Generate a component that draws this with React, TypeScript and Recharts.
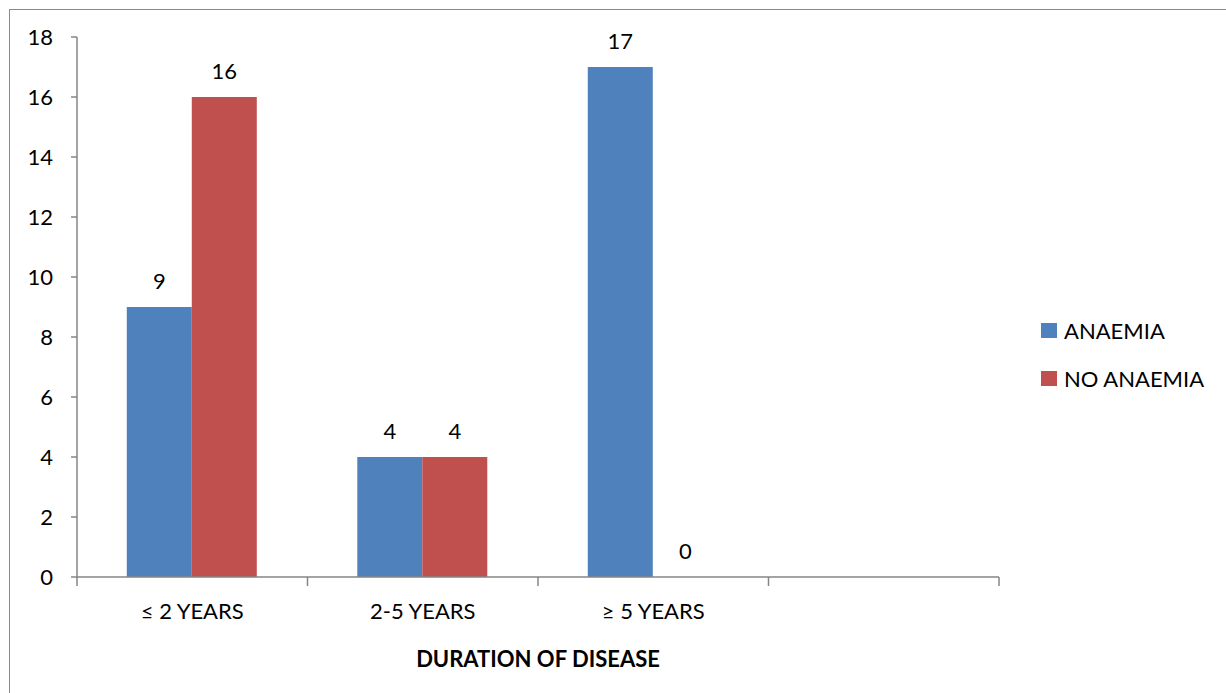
import React from 'react';
import { BarChart, Bar, XAxis, YAxis, LabelList, Label } from 'recharts';

const categories = ['≤ 2 YEARS', '2-5 YEARS', '≥ 5 YEARS', ''];
const anaemia: (number | null)[] = [9, 4, 17, null];
const noAnaemia: (number | null)[] = [16, 4, 0, null];
const yTicks = [0, 2, 4, 6, 8, 10, 12, 14, 16, 18];
const seriesNames = ['ANAEMIA', 'NO ANAEMIA'];
const seriesColors = ['#4F81BD', '#C0504D'];
const axisTitle = 'DURATION OF DISEASE';

const data = categories.map((c, i) => ({ category: c, anaemia: anaemia[i], noAnaemia: noAnaemia[i] }));

const W = 1226;
const H = 693;
const FONT = 'Lato, "Open Sans", sans-serif';
const AXIS = '#868686';
const margin = { top: 37, right: 227, left: 17, bottom: 26 };
const Y_W = 60;
const plotW = W - margin.left - margin.right - Y_W;
const band = plotW / categories.length;

const XTick = (props: any) => {
  const { x, y, payload, index } = props;
  const last = index === categories.length - 1;
  return (
    <g>
      <line x1={x - band / 2} x2={x - band / 2} y1={y} y2={y + 9} stroke={AXIS} strokeWidth={1.5} />
      {last && <line x1={x + band / 2} x2={x + band / 2} y1={y} y2={y + 9} stroke={AXIS} strokeWidth={1.5} />}
      <text x={x} y={y + 42} textAnchor="middle" fill="#000" fontSize={22} fontFamily={FONT}>
        {payload.value}
      </text>
    </g>
  );
};

const ValueLabel = (props: any) => {
  const { x, y, width, value } = props;
  if (value === null || value === undefined || x === undefined) return null;
  return (
    <text x={Number(x) + Number(width) / 2} y={Number(y) - 18} textAnchor="middle" fill="#000" fontSize={22} fontFamily={FONT}>
      {Math.round(Number(value))}
    </text>
  );
};

export default function App() {
  return (
    <div style={{ position: 'absolute', left: 0, top: 0, width: W, height: H, overflow: 'hidden', background: '#fff' }}>
      <div style={{ position: 'absolute', left: 9, top: 9, width: 1400, height: 900, border: '1.5px solid #8a8a8a' }} />
      <div style={{ position: 'absolute', left: 0, top: 0 }}>
        <BarChart width={W} height={H} data={data} margin={margin} barCategoryGap="21.6%" barGap={0}>
          <XAxis
            dataKey="category"
            stroke={AXIS}
            strokeWidth={1.5}
            tickLine={false}
            tickSize={0}
            tickMargin={0}
            height={90}
            tick={<XTick />}
            interval={0}
          >
            <Label value={axisTitle} position="insideBottom" offset={0} fill="#000" fontSize={22} fontWeight="bold" fontFamily={FONT} />
          </XAxis>
          <YAxis
            width={Y_W}
            domain={[0, 18]}
            ticks={yTicks}
            interval={0}
            stroke={AXIS}
            strokeWidth={1.5}
            tickSize={6}
            tickMargin={18}
            tick={{ fill: '#000', fontSize: 22, fontFamily: FONT }}
          />
          <Bar dataKey="anaemia" name={seriesNames[0]} fill={seriesColors[0]} minPointSize={0.01} isAnimationActive={false}>
            <LabelList dataKey="anaemia" content={<ValueLabel />} />
          </Bar>
          <Bar dataKey="noAnaemia" name={seriesNames[1]} fill={seriesColors[1]} minPointSize={0.01} isAnimationActive={false}>
            <LabelList dataKey="noAnaemia" content={<ValueLabel />} />
          </Bar>
        </BarChart>
      </div>
      <div style={{ position: 'absolute', left: 1041, top: 306, fontFamily: FONT, fontSize: 22, color: '#000' }}>
        {seriesNames.map((n, i) => (
          <div key={n} style={{ display: 'flex', alignItems: 'center', height: 48 }}>
            <span style={{ display: 'inline-block', width: 16, height: 15, background: seriesColors[i], marginRight: 7 }} />
            <span>{n}</span>
          </div>
        ))}
      </div>
    </div>
  );
}
